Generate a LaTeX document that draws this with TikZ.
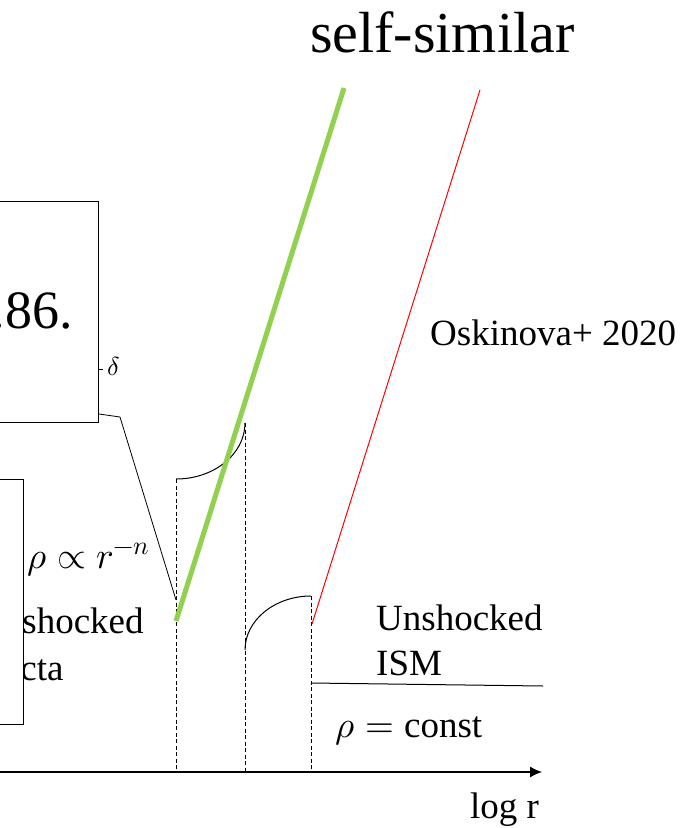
\documentclass[tikz,border=0pt]{standalone}
\usepackage{fontspec}
\usepackage{unicode-math}
\setmainfont{Liberation Serif}
\setmathfont{Latin Modern Math}
\usetikzlibrary{arrows.meta}
\definecolor{ssgreen}{RGB}{146,208,80}
\begin{document}
\begin{tikzpicture}[x=1pt,y=-1pt,
  lbl/.style={inner sep=0pt, anchor=base west, font=\fontsize{37}{40}\selectfont},
  eqn/.style={inner sep=0pt, anchor=base west, font=\fontsize{37}{40}\selectfont},
  frame/.style={draw, line width=1pt, fill=white, inner sep=0pt},
  guide/.style={line width=0.8pt, dash pattern=on 4pt off 2.5pt},
  shell/.style={line width=1pt},
  wire/.style={line width=1pt}]
\useasboundingbox (0,0) rectangle (698,828);
\clip (0,0) rectangle (698,828);

% title
\node[inner sep=0pt, anchor=base west, font=\fontsize{58}{62}\selectfont] (title) at (310,52) {self-similar};

% ejecta label, partly hidden under the lower box
\node[lbl] (ej1) at (-23,633) {Unshocked};
\node[lbl] (ej2) at (-23,680) {ejecta};
\node[frame, minimum width=74pt, minimum height=245pt, anchor=north east] (boxB) at (24,479) {};

% upper box with its text
\node[frame, minimum width=140pt, minimum height=221pt, anchor=north east] (boxA) at (99,201) {};
\node[inner sep=0pt, anchor=base east, font=\fontsize{54}{58}\selectfont] (num) at (73,328) {.86.};
\coordinate (dtick) at (99,369);
\draw[wire] (dtick) -- ++(4,0);
\node[inner sep=0pt, anchor=base west, font=\fontsize{26}{30}\selectfont] (delta) at (107,375) {$\delta$};

% key radii on the axis
\coordinate (r1top) at (176,479);
\coordinate (r1bot) at (176,772);
\coordinate (r2top) at (245,423);
\coordinate (r2bot) at (245,772);
\coordinate (r3top) at (311,596);
\coordinate (r3bot) at (311,772);
\coordinate (arcB0) at (245,650);
\draw[guide] (r1top) -- (r1bot);
\draw[guide] (r2top) -- (r2bot);
\draw[guide] (r3top) -- (r3bot);

% shocked shells
\draw[shell] (r1top) .. controls (214,479) and (245,454) .. (r2top);
\draw[shell] (arcB0) .. controls (245,620) and (275,596) .. (r3top);

% unshocked ISM level
\coordinate (ism0) at (311,683);
\coordinate (ism1) at (543,686);
\draw[wire] (ism0) -- (ism1);

% connector from the upper box
\coordinate (k0) at (99,414);
\coordinate (k1) at (120,417);
\coordinate (k2) at (176,600);
\draw[line width=0.8pt] (k0) -- (k1) -- (k2);

% self-similar profiles
\coordinate (g0) at (176,621);
\coordinate (g1) at (344,88);
\draw[ssgreen, line width=5pt] (g0) -- (g1);
\coordinate (q0) at (312,624);
\coordinate (q1) at (480,90);
\draw[red, line width=1pt] (q0) -- (q1);

% axis
\coordinate (ax0) at (-5,772);
\coordinate (ax1) at (542,772);
\draw[line width=1.1pt, -{Latex[length=12pt,width=11pt]}] (ax0) -- (ax1);

% labels
\node[lbl] (osk) at (430,345) {Oskinova+ 2020};
\node[lbl] (ism1t) at (376,630) {Unshocked};
\node[lbl] (ism2t) at (376,675) {ISM};
\node[eqn] (rhoej) at (27,568) {$\rho \propto r^{-n}$};
\node[eqn] (rhoism) at (335,737) {$\rho = \mathrm{const}$};
\node[lbl] (logr) at (470,818) {log r};
\end{tikzpicture}
\end{document}
